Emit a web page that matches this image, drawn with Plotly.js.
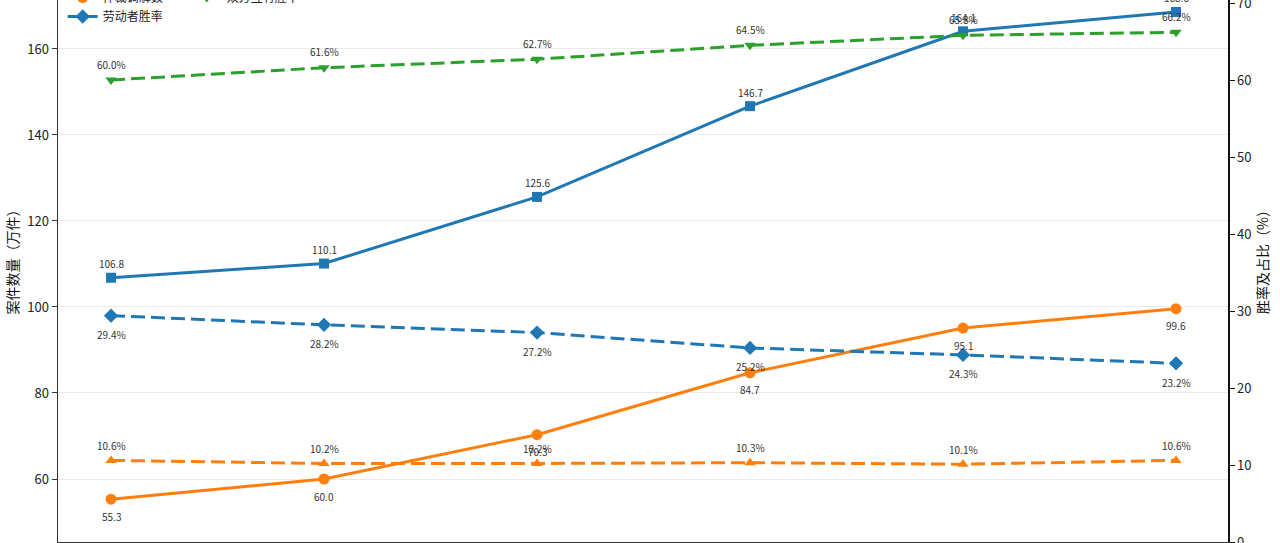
<!DOCTYPE html>
<html>
<head>
<meta charset="utf-8">
<script src="https://cdn.plot.ly/plotly-3.0.1.min.js"></script>
<style>
  html, body { margin: 0; padding: 0; background: #fff; overflow: hidden; }
  #wrap { position: relative; width: 1280px; height: 543px; overflow: hidden; }
  #chart { position: absolute; left: 0; top: -100px; width: 1280px; height: 702px; }
</style>
</head>
<body>
<div id="wrap"><div id="chart"></div></div>
<script>
// years on x (labels fall below the visible crop)
const years = ["2018", "2019", "2020", "2021", "2022", "2023"];

// left axis, 万件
const acceptedCases = [106.8, 110.1, 125.6, 146.7, 164.1, 168.6];
const mediatedCases = [55.3, 60.0, 70.3, 84.7, 95.1, 99.6];

// right axis, %
const workerWinRate = [29.4, 28.2, 27.2, 25.2, 24.3, 23.2];
const employerWinRate = [10.6, 10.2, 10.2, 10.3, 10.1, 10.6];
const mutualWinRate = [60.0, 61.6, 62.7, 64.5, 65.8, 66.2];

const BLUE = "#1f77b4";
const ORANGE = "#ff7f0e";
const GREEN = "#2ca02c";
const FONT = "Noto Sans CJK SC, DejaVu Sans, sans-serif";
const DASH = "14px,6px";

const annotations = [];

function series(name, y, color, symbol, opts) {
  // value labels as annotations so the offset from the marker can be set
  // (category axis: annotation x is the category index)
  y.forEach((v, i) => {
    annotations.push({
      x: i,
      y: v,
      xref: "x",
      yref: opts.right ? "y2" : "y",
      text: opts.pct ? v.toFixed(1) + "%" : v.toFixed(1),
      showarrow: false,
      yshift: opts.shift,
      font: { family: FONT, size: 10, color: "#333" },
    });
  });
  return {
    x: years,
    y: y,
    name: name,
    type: "scatter",
    mode: "lines+markers",
    line: { color: color, width: 3, dash: opts.dash || "solid" },
    marker: { color: color, symbol: symbol, size: opts.size || 10 },
    yaxis: opts.right ? "y2" : "y",
    legend: opts.legend || "legend",
    cliponaxis: false,
  };
}

const traces = [
  series("受理案件数", acceptedCases, BLUE, "square", { shift: 14 }),
  series("仲裁调解数", mediatedCases, ORANGE, "circle", { shift: -17, size: 11 }),
  series("劳动者胜率", workerWinRate, BLUE, "diamond", { shift: -19, dash: DASH, pct: true, right: true, size: 11 }),
  series("用人单位胜率", employerWinRate, ORANGE, "triangle-up", { shift: 15, dash: DASH, pct: true, right: true, legend: "legend2" }),
  series("双方互有胜率", mutualWinRate, GREEN, "triangle-down", { shift: 16, dash: DASH, pct: true, right: true, legend: "legend2" }),
];

const legendBase = {
  font: { family: FONT, size: 12, color: "#222" },
  bgcolor: "rgba(255,255,255,0)",
  borderwidth: 0,
  orientation: "v",
  xanchor: "left",
  yanchor: "top",
  y: 1.0194,
};

const layout = {
  width: 1280,
  height: 702,
  margin: { l: 58, r: 52, t: 75, b: 60 },
  paper_bgcolor: "#fff",
  plot_bgcolor: "#fff",
  font: { family: FONT, color: "#222" },
  showlegend: true,
  legend: Object.assign({}, legendBase, { x: 0.004 }),
  legend2: Object.assign({}, legendBase, { x: 0.11 }),
  annotations: annotations,
  xaxis: {
    type: "category",
    range: [-0.249, 5.244],
    showline: true,
    linecolor: "#333",
    linewidth: 1.5,
    ticks: "outside",
    ticklen: 5,
    tickcolor: "#333",
    showgrid: false,
    zeroline: false,
    tickfont: { family: FONT, size: 13, color: "#222" },
  },
  yaxis: {
    title: { text: "案件数量（万件）", font: { family: FONT, size: 14, color: "#111" }, standoff: 5 },
    range: [45.35, 177.2],
    tickvals: [60, 80, 100, 120, 140, 160],
    showline: true,
    linecolor: "#333",
    linewidth: 1.5,
    ticks: "outside",
    ticklen: 5,
    tickcolor: "#333",
    showgrid: true,
    gridcolor: "#e9ece6",
    gridwidth: 1,
    zeroline: false,
    tickfont: { family: FONT, size: 13, color: "#222" },
    automargin: false,
  },
  yaxis2: {
    title: { text: "胜率及占比（%）", font: { family: FONT, size: 14, color: "#111" }, standoff: 4 },
    overlaying: "y",
    side: "right",
    range: [0, 73.64],
    tickvals: [0, 10, 20, 30, 40, 50, 60, 70],
    showline: true,
    linecolor: "#111",
    linewidth: 1.5,
    ticks: "outside",
    ticklen: 5,
    tickcolor: "#111",
    showgrid: false,
    zeroline: false,
    tickfont: { family: FONT, size: 13, color: "#222" },
    automargin: false,
  },
  hovermode: false,
};

Plotly.newPlot("chart", traces, layout, { staticPlot: true, displayModeBar: false });
</script>
</body>
</html>
